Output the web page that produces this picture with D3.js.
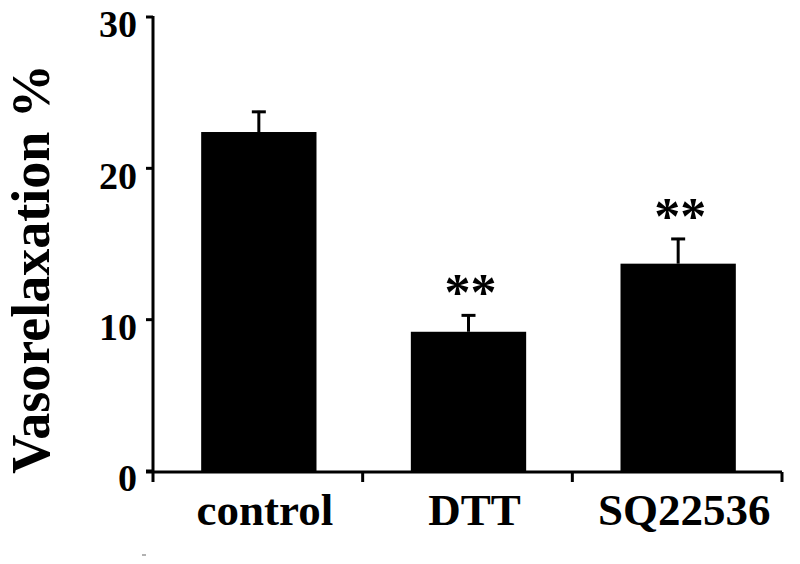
<!DOCTYPE html>
<html><head><meta charset="utf-8">
<script src="https://cdn.jsdelivr.net/npm/d3@7"></script>
<style>body{margin:0;background:#fff}svg{display:block}</style>
</head><body>
<script>
const categories = ["control", "DTT", "SQ22536"];
const values = [22.4, 9.2, 13.7];
const errors = [1.4, 1.15, 1.7];
const significance = ["", "**", "**"];
const yTicks = [0, 10, 20, 30];
const yTitle = "Vasorelaxation %";

const W = 800, H = 564;
const svg = d3.select("body").append("svg").attr("width", W).attr("height", H);
const font = "'Liberation Serif','Times New Roman',serif";

const y = d3.scaleLinear().domain([0, 30]).range([471, 17]);
const x = d3.scaleBand().domain(categories).range([154, 783]).padding(0);
const barW = x.bandwidth() * 0.55;
const axisX = 153, axisY = 472;

// bars
svg.selectAll("rect.bar").data(categories).enter().append("rect")
  .attr("x", d => x(d) + (x.bandwidth() - barW) / 2)
  .attr("y", (d, i) => y(values[i]))
  .attr("width", barW)
  .attr("height", (d, i) => y(0) - y(values[i]) + 1)
  .attr("fill", "#000");

// error bars
const cx = d => x(d) + x.bandwidth() / 2;
svg.selectAll("line.err").data(categories).enter().append("line")
  .attr("x1", cx).attr("x2", cx)
  .attr("y1", (d, i) => y(values[i]))
  .attr("y2", (d, i) => y(values[i] + errors[i]))
  .attr("stroke", "#000").attr("stroke-width", 3);
svg.selectAll("line.cap").data(categories).enter().append("line")
  .attr("x1", d => cx(d) - 7).attr("x2", d => cx(d) + 7)
  .attr("y1", (d, i) => y(values[i] + errors[i]) + 1)
  .attr("y2", (d, i) => y(values[i] + errors[i]) + 1)
  .attr("stroke", "#000").attr("stroke-width", 3);

// significance stars
svg.selectAll("text.sig").data(categories).enter().append("text")
  .attr("x", d => cx(d) + 2)
  .attr("y", (d, i) => y(values[i] + errors[i]) - 4)
  .attr("text-anchor", "middle")
  .attr("font-family", font).attr("font-weight", "bold").attr("font-size", 52)
  .text((d, i) => significance[i]);

// y axis
svg.append("line").attr("x1", axisX).attr("x2", axisX).attr("y1", y(30) - 1).attr("y2", 482)
  .attr("stroke", "#000").attr("stroke-width", 3);
svg.selectAll("line.ytick").data(yTicks).enter().append("line")
  .attr("x1", axisX - 7).attr("x2", axisX).attr("y1", d => y(d)).attr("y2", d => y(d))
  .attr("stroke", "#000").attr("stroke-width", 3);
svg.selectAll("text.ylab").data(yTicks).enter().append("text")
  .attr("x", 137).attr("y", d => y(d) + 7).attr("dy", "0.35em")
  .attr("text-anchor", "end")
  .attr("font-family", font).attr("font-weight", "bold").attr("font-size", 38)
  .text(d => d);

// x axis
svg.append("line").attr("x1", 146).attr("x2", x.range()[1] - 1).attr("y1", axisY).attr("y2", axisY)
  .attr("stroke", "#000").attr("stroke-width", 3);
const boundaries = categories.map(c => x(c)).concat([x.range()[1]]).slice(1);
svg.selectAll("line.xtick").data(boundaries).enter().append("line")
  .attr("x1", d => d - 1).attr("x2", d => d - 1).attr("y1", axisY).attr("y2", 482)
  .attr("stroke", "#000").attr("stroke-width", 3);
svg.selectAll("text.xlab").data(categories).enter().append("text")
  .attr("x", d => cx(d) + 6).attr("y", 525)
  .attr("text-anchor", "middle")
  .attr("font-family", font).attr("font-weight", "bold").attr("font-size", 45)
  .text(d => d);

// y title
svg.append("text")
  .attr("transform", "translate(49,269) rotate(-90)")
  .attr("text-anchor", "middle")
  .attr("font-family", font).attr("font-weight", "bold").attr("font-size", 54)
  .text(yTitle);

// small artifact mark
svg.append("line").attr("x1", 142).attr("x2", 146).attr("y1", 555).attr("y2", 555)
  .attr("stroke", "#999").attr("stroke-width", 1.5);
</script>
</body></html>
